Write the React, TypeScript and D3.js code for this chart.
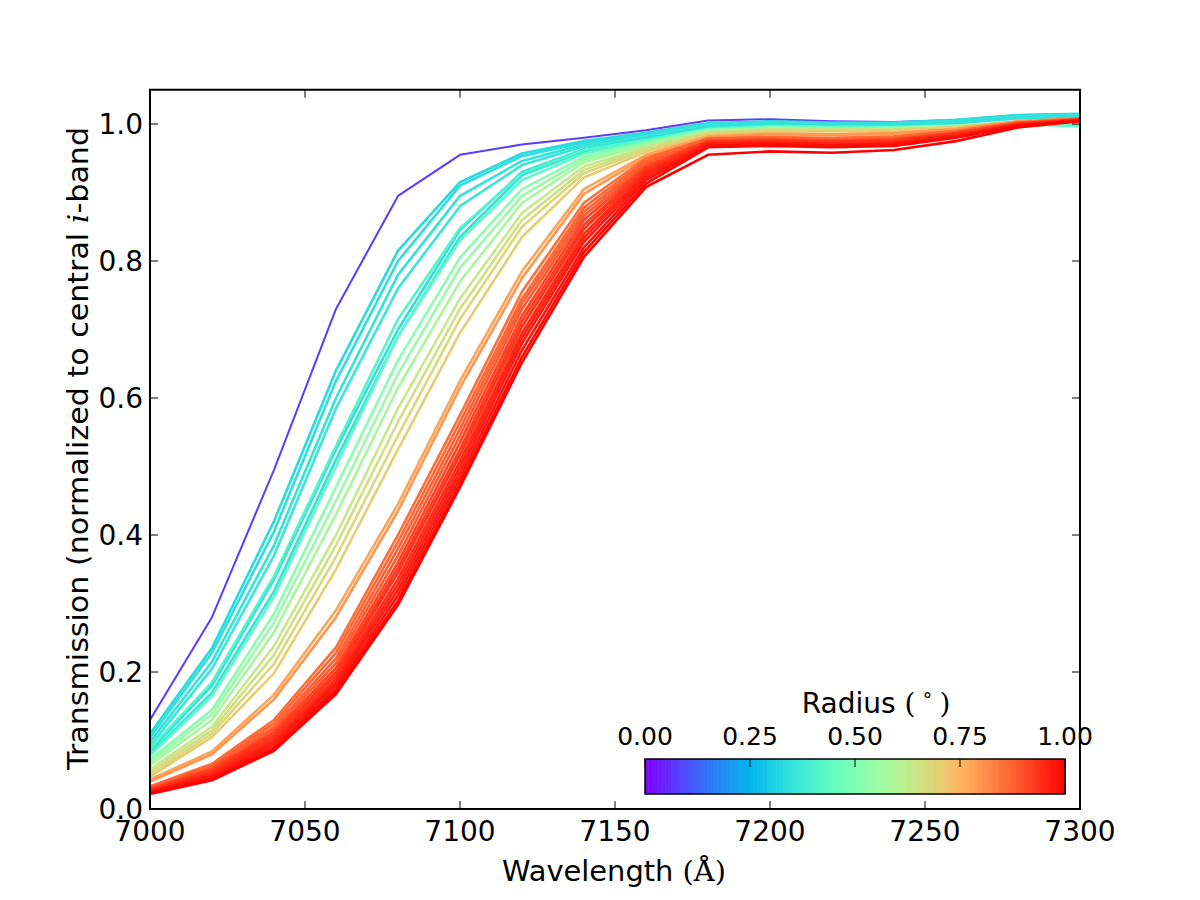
import { useRef, useEffect } from "react";
import * as d3 from "d3";

// wavelength grid (Angstrom)
const wavelengths = [
  7000, 7020, 7040, 7060, 7080, 7100, 7120, 7140, 7160, 7180, 7200, 7220, 7240, 7260, 7280, 7300,
];

// radius (deg) of each curve, drives colour
const radii = [
  0.075, 0.33, 0.34, 0.35, 0.36, 0.34, 0.35, 0.41, 0.44, 0.52, 0.55, 0.58, 0.64, 0.66, 0.68, 0.7,
  0.78, 0.8, 0.86, 0.87, 0.88, 0.89, 0.92, 0.93, 0.94, 0.95, 0.96, 0.97, 0.98, 0.99, 1.0,
];

// normalized transmission, one row per radius
const transmission = [
  [0.130, 0.280, 0.495, 0.730, 0.895, 0.955, 0.970, 0.980, 0.991, 1.005, 1.007, 1.004, 1.003, 1.006, 1.013, 1.014],
  [0.110, 0.235, 0.420, 0.640, 0.815, 0.915, 0.957, 0.975, 0.987, 1.001, 1.004, 1.002, 1.002, 1.006, 1.013, 1.015],
  [0.104, 0.228, 0.405, 0.625, 0.800, 0.910, 0.953, 0.973, 0.985, 1.000, 1.003, 1.001, 1.001, 1.005, 1.012, 1.014],
  [0.098, 0.215, 0.385, 0.600, 0.780, 0.895, 0.946, 0.970, 0.983, 0.998, 1.002, 1.000, 1.000, 1.004, 1.011, 1.013],
  [0.092, 0.205, 0.370, 0.585, 0.760, 0.880, 0.940, 0.967, 0.981, 0.997, 1.001, 0.999, 0.999, 1.003, 1.010, 1.012],
  [0.085, 0.180, 0.335, 0.525, 0.700, 0.845, 0.930, 0.963, 0.979, 0.996, 1.000, 0.998, 0.998, 1.002, 1.009, 1.011],
  [0.080, 0.170, 0.318, 0.510, 0.690, 0.835, 0.925, 0.960, 0.977, 0.995, 0.999, 0.997, 0.997, 1.001, 1.008, 1.010],
  [0.088, 0.185, 0.340, 0.530, 0.715, 0.848, 0.928, 0.962, 0.977, 0.993, 0.997, 0.996, 0.996, 0.998, 1.000, 0.998],
  [0.078, 0.165, 0.310, 0.500, 0.690, 0.830, 0.918, 0.957, 0.975, 0.992, 0.996, 0.995, 0.995, 0.997, 0.999, 0.997],
  [0.072, 0.145, 0.285, 0.470, 0.655, 0.805, 0.905, 0.952, 0.973, 0.991, 0.995, 0.994, 0.994, 0.997, 1.002, 1.003],
  [0.068, 0.138, 0.272, 0.450, 0.635, 0.790, 0.895, 0.948, 0.971, 0.990, 0.994, 0.993, 0.994, 0.997, 1.003, 1.004],
  [0.064, 0.130, 0.258, 0.430, 0.615, 0.770, 0.885, 0.944, 0.969, 0.989, 0.993, 0.993, 0.993, 0.997, 1.003, 1.005],
  [0.058, 0.120, 0.238, 0.400, 0.585, 0.745, 0.870, 0.938, 0.966, 0.988, 0.992, 0.992, 0.992, 0.996, 1.003, 1.006],
  [0.054, 0.115, 0.225, 0.385, 0.565, 0.730, 0.860, 0.933, 0.964, 0.987, 0.991, 0.991, 0.992, 0.996, 1.003, 1.006],
  [0.050, 0.110, 0.212, 0.368, 0.545, 0.715, 0.850, 0.928, 0.962, 0.986, 0.990, 0.990, 0.991, 0.995, 1.003, 1.006],
  [0.047, 0.105, 0.198, 0.350, 0.525, 0.695, 0.835, 0.922, 0.959, 0.985, 0.989, 0.989, 0.990, 0.995, 1.003, 1.006],
  [0.043, 0.084, 0.167, 0.290, 0.445, 0.625, 0.785, 0.905, 0.955, 0.982, 0.986, 0.985, 0.987, 0.993, 1.004, 1.008],
  [0.040, 0.080, 0.160, 0.280, 0.435, 0.615, 0.775, 0.898, 0.952, 0.980, 0.985, 0.984, 0.986, 0.992, 1.004, 1.008],
  [0.033, 0.066, 0.130, 0.236, 0.400, 0.575, 0.755, 0.885, 0.950, 0.979, 0.981, 0.980, 0.982, 0.990, 1.002, 1.008],
  [0.032, 0.064, 0.125, 0.228, 0.390, 0.565, 0.745, 0.878, 0.947, 0.978, 0.980, 0.978, 0.980, 0.989, 1.002, 1.008],
  [0.031, 0.062, 0.120, 0.220, 0.380, 0.555, 0.738, 0.872, 0.944, 0.977, 0.979, 0.977, 0.979, 0.988, 1.001, 1.007],
  [0.030, 0.060, 0.116, 0.213, 0.370, 0.545, 0.730, 0.866, 0.941, 0.976, 0.978, 0.976, 0.978, 0.987, 1.001, 1.007],
  [0.029, 0.058, 0.112, 0.206, 0.360, 0.535, 0.720, 0.860, 0.938, 0.975, 0.977, 0.975, 0.977, 0.987, 1.001, 1.007],
  [0.028, 0.056, 0.108, 0.200, 0.352, 0.525, 0.712, 0.853, 0.935, 0.974, 0.976, 0.974, 0.976, 0.986, 1.000, 1.006],
  [0.027, 0.054, 0.104, 0.195, 0.345, 0.517, 0.704, 0.847, 0.932, 0.973, 0.975, 0.973, 0.975, 0.985, 1.000, 1.006],
  [0.026, 0.052, 0.100, 0.190, 0.336, 0.508, 0.695, 0.840, 0.929, 0.972, 0.974, 0.972, 0.974, 0.984, 0.999, 1.006],
  [0.025, 0.050, 0.097, 0.185, 0.328, 0.500, 0.688, 0.834, 0.926, 0.971, 0.973, 0.970, 0.972, 0.983, 0.999, 1.005],
  [0.025, 0.048, 0.094, 0.181, 0.320, 0.492, 0.680, 0.828, 0.922, 0.970, 0.972, 0.969, 0.971, 0.982, 0.998, 1.005],
  [0.024, 0.046, 0.090, 0.176, 0.312, 0.484, 0.670, 0.820, 0.918, 0.968, 0.970, 0.968, 0.970, 0.981, 0.998, 1.005],
  [0.023, 0.044, 0.087, 0.172, 0.304, 0.476, 0.660, 0.813, 0.913, 0.966, 0.968, 0.966, 0.968, 0.980, 0.997, 1.004],
  [0.022, 0.042, 0.085, 0.168, 0.298, 0.470, 0.652, 0.806, 0.908, 0.955, 0.960, 0.958, 0.962, 0.975, 0.995, 1.004],
];

const xTicks = [7000, 7050, 7100, 7150, 7200, 7250, 7300];
const yTicks = [0, 0.2, 0.4, 0.6, 0.8, 1.0];
const cbarTicks = [0, 0.25, 0.5, 0.75, 1.0];

const SANS = "DejaVu Sans, sans-serif";
const SERIF = "DejaVu Serif, serif";

// matplotlib "rainbow" colormap
function rainbow(t: number) {
  const c = (v: number) => Math.round(Math.max(0, Math.min(1, v)) * 255);
  return d3.rgb(c(Math.abs(2 * t - 0.5)), c(Math.sin(t * Math.PI)), c(Math.cos((t * Math.PI) / 2))).formatHex();
}

export default function App() {
  const svgRef = useRef<SVGSVGElement>(null);

  useEffect(() => {
    if (!svgRef.current) return;
    const W = 1200;
    const H = 900;
    const margin = { top: 89.75, right: 120, bottom: 91, left: 150 };
    const left = margin.left;
    const right = W - margin.right;
    const bottom = H - margin.bottom;

    const svg = d3.select(svgRef.current);
    svg.selectAll("*").remove();

    const x = d3.scaleLinear().domain([7000, 7300]).range([left, right]);
    const y = d3.scaleLinear().domain([0, 1.05]).range([bottom, margin.top]);

    svg.append("rect").attr("width", W).attr("height", H).attr("fill", "#fff");

    const clip = svg.append("clipPath").attr("id", "plot-clip");
    clip.append("rect").attr("x", left).attr("y", margin.top).attr("width", right - left).attr("height", bottom - margin.top);

    const line = d3
      .line<number>()
      .x((_, i) => x(wavelengths[i]))
      .y((d) => y(d));

    // curves
    svg
      .append("g")
      .attr("clip-path", "url(#plot-clip)")
      .selectAll("path")
      .data(transmission)
      .join("path")
      .attr("d", (d) => line(d))
      .attr("fill", "none")
      .attr("stroke", (_, i) => rainbow(radii[i]))
      .attr("stroke-width", (_, i) => (i === 0 ? 2 : 2.6))
      .attr("stroke-linejoin", "round");

    // ticks (inward, all four sides)
    const tk = svg.append("g").attr("stroke", "#000").attr("stroke-width", 1);
    xTicks.forEach((t) => {
      tk.append("line").attr("x1", x(t)).attr("x2", x(t)).attr("y1", bottom).attr("y2", bottom - 8);
      tk.append("line").attr("x1", x(t)).attr("x2", x(t)).attr("y1", margin.top).attr("y2", margin.top + 8);
    });
    yTicks.forEach((t) => {
      tk.append("line").attr("x1", left).attr("x2", left + 8).attr("y1", y(t)).attr("y2", y(t));
      tk.append("line").attr("x1", right).attr("x2", right - 8).attr("y1", y(t)).attr("y2", y(t));
    });

    // tick labels
    svg
      .append("g")
      .selectAll("text")
      .data(xTicks)
      .join("text")
      .attr("x", (d) => x(d))
      .attr("y", bottom + 32)
      .attr("text-anchor", "middle")
      .style("font-family", SANS)
      .style("font-size", "28px")
      .text((d) => String(d));

    svg
      .append("g")
      .selectAll("text")
      .data(yTicks)
      .join("text")
      .attr("x", left - 7)
      .attr("y", (d) => y(d) + 10)
      .attr("text-anchor", "end")
      .style("font-family", SANS)
      .style("font-size", "28px")
      .text((d) => d.toFixed(1));

    // axis labels
    const xl = svg
      .append("text")
      .attr("x", 502)
      .attr("y", 881)
      .attr("textLength", 224)
      .attr("lengthAdjust", "spacingAndGlyphs")
      .style("font-family", SANS)
      .style("font-size", "28px");
    xl.append("tspan").text("Wavelength ");
    xl.append("tspan").style("font-family", SERIF).text("(Å)");

    const yl = svg
      .append("text")
      .attr("transform", `translate(88,770) rotate(-90)`)
      .attr("textLength", 643)
      .attr("lengthAdjust", "spacingAndGlyphs")
      .style("font-family", SANS)
      .style("font-size", "28px");
    yl.append("tspan").text("Transmission (normalized to central ");
    yl.append("tspan").style("font-family", SERIF).style("font-style", "italic").text("i");
    yl.append("tspan").text("-band");

    // colorbar
    const cb = { x0: 645, x1: 1065, y0: 759, y1: 794 };
    const cx = d3.scaleLinear().domain([0, 1]).range([cb.x0, cb.x1]);
    const steps = d3.range(0, 128);
    const band = (cb.x1 - cb.x0) / steps.length;
    svg
      .append("g")
      .selectAll("rect")
      .data(steps)
      .join("rect")
      .attr("x", (d) => cx(d / steps.length))
      .attr("y", cb.y0)
      .attr("width", band + 0.6)
      .attr("height", cb.y1 - cb.y0)
      .attr("fill", (d) => rainbow((d + 0.5) / steps.length));
    svg
      .append("rect")
      .attr("x", cb.x0)
      .attr("y", cb.y0)
      .attr("width", cb.x1 - cb.x0)
      .attr("height", cb.y1 - cb.y0)
      .attr("fill", "none")
      .attr("stroke", "#000")
      .attr("stroke-width", 1.5);
    cbarTicks.forEach((t) => {
      svg
        .append("line")
        .attr("x1", cx(t))
        .attr("x2", cx(t))
        .attr("y1", cb.y0)
        .attr("y2", cb.y0 + 8)
        .attr("stroke", "#000")
        .attr("stroke-width", 1);
      svg
        .append("text")
        .attr("x", cx(t))
        .attr("y", 745)
        .attr("text-anchor", "middle")
        .style("font-family", SANS)
        .style("font-size", "25px")
        .text(t.toFixed(2));
    });
    const ct = svg
      .append("text")
      .attr("x", 876)
      .attr("y", 713)
      .attr("text-anchor", "middle")
      .style("font-family", SANS)
      .style("font-size", "28px");
    ct.append("tspan").text("Radius ");
    ct.append("tspan").style("font-family", SERIF).text("(");
    ct.append("tspan").style("font-size", "19px").attr("dy", -12).text(" ∘ ");
    ct.append("tspan").style("font-family", SERIF).attr("dy", 12).text(")");

    // frame
    svg
      .append("rect")
      .attr("x", left)
      .attr("y", margin.top)
      .attr("width", right - left)
      .attr("height", bottom - margin.top)
      .attr("fill", "none")
      .attr("stroke", "#000")
      .attr("stroke-width", 2);
  }, []);

  return (
    <svg
      ref={svgRef}
      width={1200}
      height={900}
      style={{ position: "absolute", left: 0, top: 0, display: "block" }}
    />
  );
}
